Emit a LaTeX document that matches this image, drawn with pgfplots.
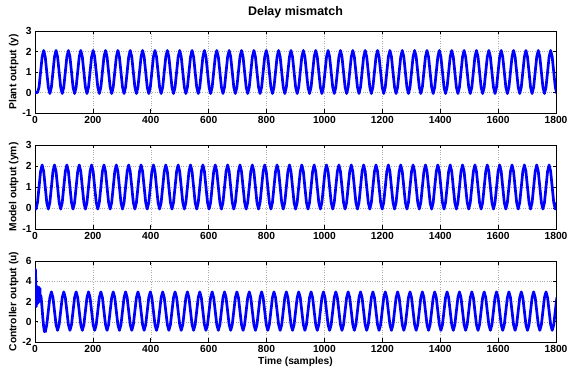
\documentclass[border=0pt]{standalone}
\usepackage{fontspec}
\setmainfont{Liberation Sans}
\usepackage{pgfplots}
\usepackage{pgfplotstable}
\pgfplotsset{compat=1.18}
\pgfplotstableread{
x y ym u
0 0 0 nan
3.30 0 -0.05 nan
8.64 0 0.26 nan
13.98 0.26 1.00 nan
19.32 1.00 1.74 nan
24.66 1.74 2.05 nan
30.00 2.05 1.74 nan
35.34 1.74 1.00 -1.05
40.68 1.00 0.26 -0.29
46.02 0.26 -0.05 1.05
51.36 -0.05 0.26 2.39
56.70 0.26 1.00 2.95
62.04 1.00 1.74 2.39
67.38 1.74 2.05 1.05
72.72 2.05 1.74 -0.29
78.06 1.74 1.00 -0.85
83.40 1.00 0.26 -0.29
88.74 0.26 -0.05 1.05
94.08 -0.05 0.26 2.39
99.42 0.26 1.00 2.95
104.76 1.00 1.74 2.39
110.10 1.74 2.05 1.05
115.44 2.05 1.74 -0.29
120.78 1.74 1.00 -0.85
126.12 1.00 0.26 -0.29
131.46 0.26 -0.05 1.05
136.80 -0.05 0.26 2.39
142.14 0.26 1.00 2.95
147.48 1.00 1.74 2.39
152.82 1.74 2.05 1.05
158.16 2.05 1.74 -0.29
163.50 1.74 1.00 -0.85
168.84 1.00 0.26 -0.29
174.18 0.26 -0.05 1.05
179.52 -0.05 0.26 2.39
184.86 0.26 1.00 2.95
190.20 1.00 1.74 2.39
195.54 1.74 2.05 1.05
200.88 2.05 1.74 -0.29
206.22 1.74 1.00 -0.85
211.56 1.00 0.26 -0.29
216.90 0.26 -0.05 1.05
222.24 -0.05 0.26 2.39
227.58 0.26 1.00 2.95
232.92 1.00 1.74 2.39
238.26 1.74 2.05 1.05
243.60 2.05 1.74 -0.29
248.94 1.74 1.00 -0.85
254.28 1.00 0.26 -0.29
259.62 0.26 -0.05 1.05
264.96 -0.05 0.26 2.39
270.30 0.26 1.00 2.95
275.64 1.00 1.74 2.39
280.98 1.74 2.05 1.05
286.32 2.05 1.74 -0.29
291.66 1.74 1.00 -0.85
297.00 1.00 0.26 -0.29
302.34 0.26 -0.05 1.05
307.68 -0.05 0.26 2.39
313.02 0.26 1.00 2.95
318.36 1.00 1.74 2.39
323.70 1.74 2.05 1.05
329.04 2.05 1.74 -0.29
334.38 1.74 1.00 -0.85
339.72 1.00 0.26 -0.29
345.06 0.26 -0.05 1.05
350.40 -0.05 0.26 2.39
355.74 0.26 1.00 2.95
361.08 1.00 1.74 2.39
366.42 1.74 2.05 1.05
371.76 2.05 1.74 -0.29
377.10 1.74 1.00 -0.85
382.44 1.00 0.26 -0.29
387.78 0.26 -0.05 1.05
393.12 -0.05 0.26 2.39
398.46 0.26 1.00 2.95
403.80 1.00 1.74 2.39
409.14 1.74 2.05 1.05
414.48 2.05 1.74 -0.29
419.82 1.74 1.00 -0.85
425.16 1.00 0.26 -0.29
430.50 0.26 -0.05 1.05
435.84 -0.05 0.26 2.39
441.18 0.26 1.00 2.95
446.52 1.00 1.74 2.39
451.86 1.74 2.05 1.05
457.20 2.05 1.74 -0.29
462.54 1.74 1.00 -0.85
467.88 1.00 0.26 -0.29
473.22 0.26 -0.05 1.05
478.56 -0.05 0.26 2.39
483.90 0.26 1.00 2.95
489.24 1.00 1.74 2.39
494.58 1.74 2.05 1.05
499.92 2.05 1.74 -0.29
505.26 1.74 1.00 -0.85
510.60 1.00 0.26 -0.29
515.94 0.26 -0.05 1.05
521.28 -0.05 0.26 2.39
526.62 0.26 1.00 2.95
531.96 1.00 1.74 2.39
537.30 1.74 2.05 1.05
542.64 2.05 1.74 -0.29
547.98 1.74 1.00 -0.85
553.32 1.00 0.26 -0.29
558.66 0.26 -0.05 1.05
564.00 -0.05 0.26 2.39
569.34 0.26 1.00 2.95
574.68 1.00 1.74 2.39
580.02 1.74 2.05 1.05
585.36 2.05 1.74 -0.29
590.70 1.74 1.00 -0.85
596.04 1.00 0.26 -0.29
601.38 0.26 -0.05 1.05
606.72 -0.05 0.26 2.39
612.06 0.26 1.00 2.95
617.40 1.00 1.74 2.39
622.74 1.74 2.05 1.05
628.08 2.05 1.74 -0.29
633.42 1.74 1.00 -0.85
638.76 1.00 0.26 -0.29
644.10 0.26 -0.05 1.05
649.44 -0.05 0.26 2.39
654.78 0.26 1.00 2.95
660.12 1.00 1.74 2.39
665.46 1.74 2.05 1.05
670.80 2.05 1.74 -0.29
676.14 1.74 1.00 -0.85
681.48 1.00 0.26 -0.29
686.82 0.26 -0.05 1.05
692.16 -0.05 0.26 2.39
697.50 0.26 1.00 2.95
702.84 1.00 1.74 2.39
708.18 1.74 2.05 1.05
713.52 2.05 1.74 -0.29
718.86 1.74 1.00 -0.85
724.20 1.00 0.26 -0.29
729.54 0.26 -0.05 1.05
734.88 -0.05 0.26 2.39
740.22 0.26 1.00 2.95
745.56 1.00 1.74 2.39
750.90 1.74 2.05 1.05
756.24 2.05 1.74 -0.29
761.58 1.74 1.00 -0.85
766.92 1.00 0.26 -0.29
772.26 0.26 -0.05 1.05
777.60 -0.05 0.26 2.39
782.94 0.26 1.00 2.95
788.28 1.00 1.74 2.39
793.62 1.74 2.05 1.05
798.96 2.05 1.74 -0.29
804.30 1.74 1.00 -0.85
809.64 1.00 0.26 -0.29
814.98 0.26 -0.05 1.05
820.32 -0.05 0.26 2.39
825.66 0.26 1.00 2.95
831.00 1.00 1.74 2.39
836.34 1.74 2.05 1.05
841.68 2.05 1.74 -0.29
847.02 1.74 1.00 -0.85
852.36 1.00 0.26 -0.29
857.70 0.26 -0.05 1.05
863.04 -0.05 0.26 2.39
868.38 0.26 1.00 2.95
873.72 1.00 1.74 2.39
879.06 1.74 2.05 1.05
884.40 2.05 1.74 -0.29
889.74 1.74 1.00 -0.85
895.08 1.00 0.26 -0.29
900.42 0.26 -0.05 1.05
905.76 -0.05 0.26 2.39
911.10 0.26 1.00 2.95
916.44 1.00 1.74 2.39
921.78 1.74 2.05 1.05
927.12 2.05 1.74 -0.29
932.46 1.74 1.00 -0.85
937.80 1.00 0.26 -0.29
943.14 0.26 -0.05 1.05
948.48 -0.05 0.26 2.39
953.82 0.26 1.00 2.95
959.16 1.00 1.74 2.39
964.50 1.74 2.05 1.05
969.84 2.05 1.74 -0.29
975.18 1.74 1.00 -0.85
980.52 1.00 0.26 -0.29
985.86 0.26 -0.05 1.05
991.20 -0.05 0.26 2.39
996.54 0.26 1.00 2.95
1001.88 1.00 1.74 2.39
1007.22 1.74 2.05 1.05
1012.56 2.05 1.74 -0.29
1017.90 1.74 1.00 -0.85
1023.24 1.00 0.26 -0.29
1028.58 0.26 -0.05 1.05
1033.92 -0.05 0.26 2.39
1039.26 0.26 1.00 2.95
1044.60 1.00 1.74 2.39
1049.94 1.74 2.05 1.05
1055.28 2.05 1.74 -0.29
1060.62 1.74 1.00 -0.85
1065.96 1.00 0.26 -0.29
1071.30 0.26 -0.05 1.05
1076.64 -0.05 0.26 2.39
1081.98 0.26 1.00 2.95
1087.32 1.00 1.74 2.39
1092.66 1.74 2.05 1.05
1098.00 2.05 1.74 -0.29
1103.34 1.74 1.00 -0.85
1108.68 1.00 0.26 -0.29
1114.02 0.26 -0.05 1.05
1119.36 -0.05 0.26 2.39
1124.70 0.26 1.00 2.95
1130.04 1.00 1.74 2.39
1135.38 1.74 2.05 1.05
1140.72 2.05 1.74 -0.29
1146.06 1.74 1.00 -0.85
1151.40 1.00 0.26 -0.29
1156.74 0.26 -0.05 1.05
1162.08 -0.05 0.26 2.39
1167.42 0.26 1.00 2.95
1172.76 1.00 1.74 2.39
1178.10 1.74 2.05 1.05
1183.44 2.05 1.74 -0.29
1188.78 1.74 1.00 -0.85
1194.12 1.00 0.26 -0.29
1199.46 0.26 -0.05 1.05
1204.80 -0.05 0.26 2.39
1210.14 0.26 1.00 2.95
1215.48 1.00 1.74 2.39
1220.82 1.74 2.05 1.05
1226.16 2.05 1.74 -0.29
1231.50 1.74 1.00 -0.85
1236.84 1.00 0.26 -0.29
1242.18 0.26 -0.05 1.05
1247.52 -0.05 0.26 2.39
1252.86 0.26 1.00 2.95
1258.20 1.00 1.74 2.39
1263.54 1.74 2.05 1.05
1268.88 2.05 1.74 -0.29
1274.22 1.74 1.00 -0.85
1279.56 1.00 0.26 -0.29
1284.90 0.26 -0.05 1.05
1290.24 -0.05 0.26 2.39
1295.58 0.26 1.00 2.95
1300.92 1.00 1.74 2.39
1306.26 1.74 2.05 1.05
1311.60 2.05 1.74 -0.29
1316.94 1.74 1.00 -0.85
1322.28 1.00 0.26 -0.29
1327.62 0.26 -0.05 1.05
1332.96 -0.05 0.26 2.39
1338.30 0.26 1.00 2.95
1343.64 1.00 1.74 2.39
1348.98 1.74 2.05 1.05
1354.32 2.05 1.74 -0.29
1359.66 1.74 1.00 -0.85
1365.00 1.00 0.26 -0.29
1370.34 0.26 -0.05 1.05
1375.68 -0.05 0.26 2.39
1381.02 0.26 1.00 2.95
1386.36 1.00 1.74 2.39
1391.70 1.74 2.05 1.05
1397.04 2.05 1.74 -0.29
1402.38 1.74 1.00 -0.85
1407.72 1.00 0.26 -0.29
1413.06 0.26 -0.05 1.05
1418.40 -0.05 0.26 2.39
1423.74 0.26 1.00 2.95
1429.08 1.00 1.74 2.39
1434.42 1.74 2.05 1.05
1439.76 2.05 1.74 -0.29
1445.10 1.74 1.00 -0.85
1450.44 1.00 0.26 -0.29
1455.78 0.26 -0.05 1.05
1461.12 -0.05 0.26 2.39
1466.46 0.26 1.00 2.95
1471.80 1.00 1.74 2.39
1477.14 1.74 2.05 1.05
1482.48 2.05 1.74 -0.29
1487.82 1.74 1.00 -0.85
1493.16 1.00 0.26 -0.29
1498.50 0.26 -0.05 1.05
1503.84 -0.05 0.26 2.39
1509.18 0.26 1.00 2.95
1514.52 1.00 1.74 2.39
1519.86 1.74 2.05 1.05
1525.20 2.05 1.74 -0.29
1530.54 1.74 1.00 -0.85
1535.88 1.00 0.26 -0.29
1541.22 0.26 -0.05 1.05
1546.56 -0.05 0.26 2.39
1551.90 0.26 1.00 2.95
1557.24 1.00 1.74 2.39
1562.58 1.74 2.05 1.05
1567.92 2.05 1.74 -0.29
1573.26 1.74 1.00 -0.85
1578.60 1.00 0.26 -0.29
1583.94 0.26 -0.05 1.05
1589.28 -0.05 0.26 2.39
1594.62 0.26 1.00 2.95
1599.96 1.00 1.74 2.39
1605.30 1.74 2.05 1.05
1610.64 2.05 1.74 -0.29
1615.98 1.74 1.00 -0.85
1621.32 1.00 0.26 -0.29
1626.66 0.26 -0.05 1.05
1632.00 -0.05 0.26 2.39
1637.34 0.26 1.00 2.95
1642.68 1.00 1.74 2.39
1648.02 1.74 2.05 1.05
1653.36 2.05 1.74 -0.29
1658.70 1.74 1.00 -0.85
1664.04 1.00 0.26 -0.29
1669.38 0.26 -0.05 1.05
1674.72 -0.05 0.26 2.39
1680.06 0.26 1.00 2.95
1685.40 1.00 1.74 2.39
1690.74 1.74 2.05 1.05
1696.08 2.05 1.74 -0.29
1701.42 1.74 1.00 -0.85
1706.76 1.00 0.26 -0.29
1712.10 0.26 -0.05 1.05
1717.44 -0.05 0.26 2.39
1722.78 0.26 1.00 2.95
1728.12 1.00 1.74 2.39
1733.46 1.74 2.05 1.05
1738.80 2.05 1.74 -0.29
1744.14 1.74 1.00 -0.85
1749.48 1.00 0.26 -0.29
1754.82 0.26 -0.05 1.05
1760.16 -0.05 0.26 2.39
1765.50 0.26 1.00 2.95
1770.84 1.00 1.74 2.39
1776.18 1.74 2.05 1.05
1781.52 2.05 1.74 -0.29
1786.86 1.74 1.00 -0.85
1792.20 1.00 0.26 -0.29
1797.54 0.26 -0.05 1.05
1802.88 -0.05 0.26 2.39
}\data

\pgfplotsset{myax/.style={
  scale only axis, width=521bp, anchor=south west,
  xmin=0, xmax=1800, xtick={0,200,...,1800},
  grid=major, major grid style={dotted, gray!65, line width=0.5pt},
  tick align=inside, major tick length=3.5bp,
  axis line style={line width=0.8pt},
  every tick/.style={black, line width=0.6pt},
  tick label style={font=\bfseries\fontsize{10.3}{12}\selectfont},
  /pgf/number format/assume math mode=true,
  /pgf/number format/set thousands separator={},
  scaled ticks=false,
  ylabel style={font=\bfseries\fontsize{10.3}{12}\selectfont, at={(axis description cs:-0.041,0.5)}, anchor=center},
  xlabel style={font=\bfseries\fontsize{10.3}{12}\selectfont},
}}

\begin{document}
\begin{tikzpicture}
\useasboundingbox (0,0) rectangle (568bp,370bp);
\begin{axis}[myax, at={(35bp,257bp)}, height=82bp,
  ymin=-1, ymax=3, ytick={-1,0,1,2,3},
  ylabel={Plant output (y)},
  title={Delay mismatch},
  title style={font=\bfseries\fontsize{12.5}{14}\selectfont, at={(axis description cs:0.5,1)}, anchor=center, yshift=13bp}]
\addplot[color=blue, line width=2.7bp, line join=round, no markers] table[x=x, y=y] {\data};
\end{axis}
\begin{axis}[myax, at={(35bp,141bp)}, height=84bp,
  ymin=-1, ymax=3, ytick={-1,0,1,2,3},
  ylabel={Model output (ym)}]
\addplot[color=blue, line width=2.7bp, line join=round, no markers] table[x=x, y=ym] {\data};
\end{axis}
\begin{axis}[myax, at={(35bp,28bp)}, height=81bp,
  ymin=-2, ymax=6, ytick={-2,0,2,4,6},
  ylabel={Controller output (u)},
  xlabel={Time (samples)},
  xlabel style={at={(axis description cs:0.5,0)}, anchor=center, yshift=-20bp}]
\addplot[color=blue, line width=2.7bp, line join=round, no markers] coordinates {
(0,1.8) (0.8,5.2) (2,5.0) (3,2.6) (4.5,1.5) (6,2.4) (7,3.5) (8.5,2.4) (9.5,1.8)
(11,3.4) (12.5,2.2) (14,3.4) (15.5,2.0) (17,3.3) (18.5,2.1) (20,2.6) (21.5,2.3)
(24,1.5) (27,0.4) (30,-0.5) (32.5,-0.95) (35.34,-1.05)};
\addplot[color=blue, line width=2.7bp, line join=round, no markers] table[x=x, y=u] {\data};
\end{axis}
\end{tikzpicture}
\end{document}
